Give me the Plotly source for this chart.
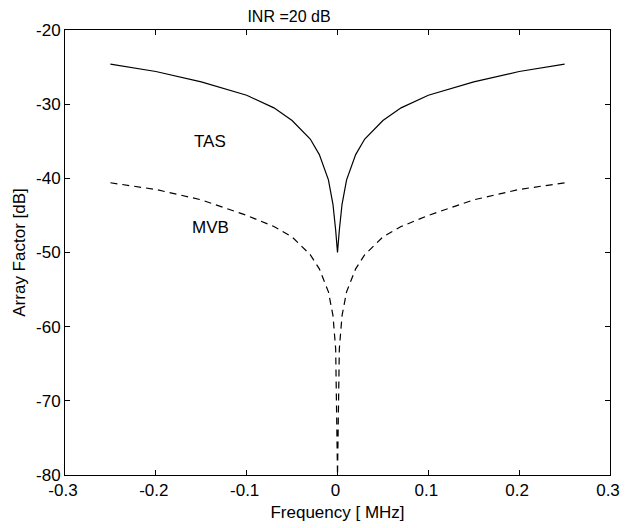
import plotly.graph_objects as go

freq = [-0.25, -0.2, -0.15, -0.1, -0.07, -0.05, -0.03, -0.02, -0.01, -0.005, -0.002, 0.0,
        0.002, 0.005, 0.01, 0.02, 0.03, 0.05, 0.07, 0.1, 0.15, 0.2, 0.25]
tas = [-24.6, -25.6, -27.0, -28.8, -30.5, -32.2, -34.7, -36.8, -40.2, -43.5, -47.0, -50.0,
       -47.0, -43.5, -40.2, -36.8, -34.7, -32.2, -30.5, -28.8, -27.0, -25.6, -24.6]
mvb = [-40.6, -41.5, -42.9, -45.0, -46.5, -47.9, -50.3, -52.2, -55.3, -58.5, -63.0, -80.0,
       -63.0, -58.5, -55.3, -52.2, -50.3, -47.9, -46.5, -45.0, -42.9, -41.5, -40.6]

x_ticks = [-0.3, -0.2, -0.1, 0, 0.1, 0.2, 0.3]
x_tick_text = ["-0.3", "-0.2", "-0.1", "0", "0.1", "0.2", "0.3"]
y_ticks = [-80, -70, -60, -50, -40, -30, -20]
y_tick_text = ["-80", "-70", "-60", "-50", "-40", "-30", "-20"]

FAM = "Liberation Sans, Arial, sans-serif"
font = dict(family=FAM, size=17, color="black")

# page body has an 8px default margin, so the figure is sized to 622x520
W, H = 622, 520

fig = go.Figure()
fig.add_trace(go.Scatter(x=freq, y=tas, mode="lines", name="TAS",
                         line=dict(color="black", width=1.2)))
fig.add_trace(go.Scatter(x=freq, y=mvb, mode="lines", name="MVB",
                         line=dict(color="black", width=1.2, dash="7px,5px")))

fig.add_annotation(x=-0.14, y=-35, text="TAS", showarrow=False, font=font)
fig.add_annotation(x=-0.14, y=-46.6, text="MVB", showarrow=False, font=font)

fig.update_layout(
    width=W, height=H,
    margin=dict(l=53, r=10, t=22, b=52),
    paper_bgcolor="white", plot_bgcolor="white",
    showlegend=False,
    font=font,
    title=dict(text="INR =20 dB", x=281/W, xanchor="center", y=1 - 3/H, yanchor="top",
               pad=dict(t=0, b=0, l=0, r=0), automargin=False,
               font=dict(family=FAM, size=16, color="black")),
    xaxis=dict(range=[-0.3, 0.3], tickvals=x_ticks, ticktext=x_tick_text,
               showgrid=False, zeroline=False, showline=True, linecolor="black", linewidth=1,
               mirror="ticks", ticks="inside", ticklen=5, tickcolor="black",
               tickfont=font, ticklabelshift=-2,
               title=dict(text="Frequency [ MHz]", standoff=6, font=font)),
    yaxis=dict(range=[-80, -20], tickvals=y_ticks, ticktext=y_tick_text,
               showgrid=False, zeroline=False, showline=True, linecolor="black", linewidth=1,
               mirror="ticks", ticks="inside", ticklen=5, tickcolor="black",
               tickfont=font,
               title=dict(text="Array Factor [dB]", standoff=6, font=font)),
)

fig.write_html("out.html")
